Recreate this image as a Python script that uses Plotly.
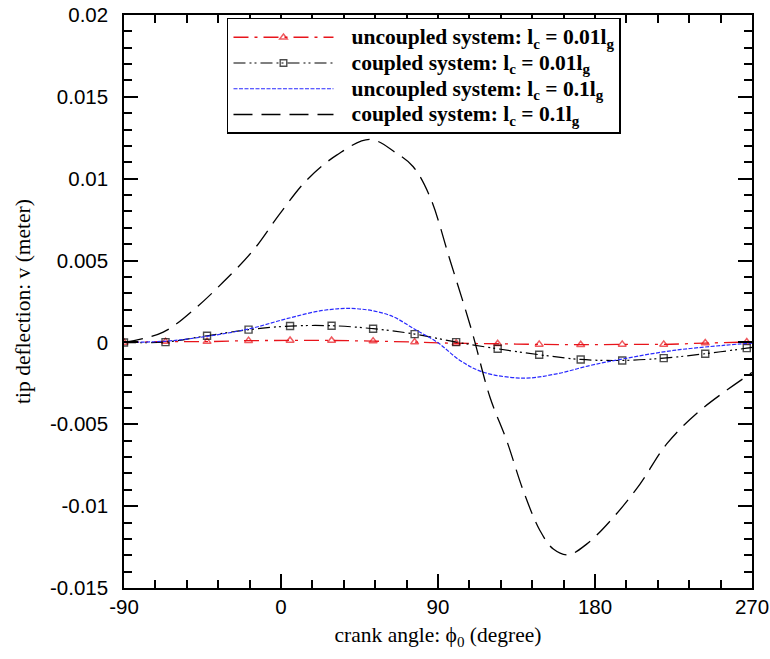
import plotly.graph_objects as go

# ---- data ----
# markers series (uncoupled / coupled, l_c = 0.01 l_g); last point (270) has no marker
mk_angle = [-90, -66.2, -42.4, -18.6, 5.2, 29.0, 52.8, 76.6, 100.4, 124.2, 148.0,
            171.8, 195.6, 219.4, 243.2, 267.0, 270]
unc_001 = [0, 0.00005, 0.00005, 0.00011, 0.00012, 0.00012, 0.00008, 0.00002, -0.00005,
           -0.00008, -0.00012, -0.00014, -0.00012, -0.00012, -0.00004, 0.00002, 0.00002]
cpl_001 = [0, 0.00002, 0.00041, 0.00078, 0.00100, 0.00102, 0.00084, 0.00051, 0.00002,
           -0.00039, -0.00075, -0.00104, -0.00110, -0.00096, -0.00069, -0.00035, -0.00030]

unc_01_angle = [-90, -65.5, -42.6, -17.8, 3.3, 24.3, 43.4, 62.5, 77.8, 90, 102.6, 116,
                139, 158, 177.1, 196.2, 225, 253.6, 270]
unc_01 = [0, 0.00008, 0.00037, 0.00084, 0.00145, 0.00196, 0.00206, 0.00165, 0.00073,
          -0.00002, -0.0011, -0.00182, -0.00218, -0.00192, -0.00141, -0.0010, -0.00049,
          -0.00018, -0.00004]

cpl_01_angle = [-90, -67.5, -48.3, -33.1, -15.9, -0.6, 14.7, 31.9, 51, 66.3, 75.8, 85.4,
                96.9, 109.3, 119.8, 129.4, 138.9, 148.5, 156.1, 164.7, 175.2, 190.5,
                205.8, 221.1, 240.2, 268.9, 270]
cpl_01 = [0, 0.00063, 0.00216, 0.00369, 0.00563, 0.00787, 0.00991, 0.01144, 0.0124,
          0.01155, 0.01073, 0.00889, 0.00502, 0.00073, -0.00335, -0.0060, -0.00906,
          -0.0115, -0.01262, -0.01297, -0.01232, -0.01069, -0.00865, -0.0062, -0.00416,
          -0.00192, -0.00184]

x_ticks = [-90, 0, 90, 180, 270]
y_ticks = [0.02, 0.015, 0.01, 0.005, 0, -0.005, -0.01, -0.015]
y_tick_text = ["0.02", "0.015", "0.01", "0.005", "0", "-0.005", "-0.01", "-0.015"]

legend_labels = [
    "uncoupled system: l<sub>c</sub> = 0.01l<sub>g</sub>",
    "coupled system: l<sub>c</sub> = 0.01l<sub>g</sub>",
    "uncoupled system: l<sub>c</sub> = 0.1l<sub>g</sub>",
    "coupled system: l<sub>c</sub> = 0.1l<sub>g</sub>",
]
names = ["\u00a0\u00a0\u00a0<span style='font-size:21.5px'><b>" + t + "</b></span>" for t in legend_labels]

mk_sizes = [7] * (len(mk_angle) - 1) + [0]

fig = go.Figure()
fig.add_trace(go.Scatter(
    x=mk_angle, y=unc_001, name=names[0], mode="lines+markers",
    line=dict(color="#e8141b", width=1.3, dash="15px,6px,3px,6px", shape="spline"),
    marker=dict(symbol="triangle-up-open", size=mk_sizes, color="#e8141b",
                line=dict(width=1.5, color="#e8141b")),
))
fig.add_trace(go.Scatter(
    x=mk_angle, y=cpl_001, name=names[1], mode="lines+markers",
    line=dict(color="black", width=1.2, dash="12px,4px,2px,3px,2px,4px", shape="spline"),
    marker=dict(symbol="square-open", size=mk_sizes, color="black",
                line=dict(width=1.4, color="black")),
))
fig.add_trace(go.Scatter(
    x=unc_01_angle, y=unc_01, name=names[2], mode="lines",
    line=dict(color="#2a2aff", width=1.2, dash="4px,1.5px", shape="spline"),
))
fig.add_trace(go.Scatter(
    x=cpl_01_angle, y=cpl_01, name=names[3], mode="lines",
    line=dict(color="black", width=1.3, dash="19px,9px", shape="spline"),
))

tick_font = dict(family="Liberation Sans, Arial, sans-serif", size=20.5, color="black")
title_font = dict(family="Liberation Serif, Times New Roman, serif", size=21.5, color="black")

fig.update_layout(
    width=770, height=659,
    margin=dict(l=124, r=18, t=15, b=71),
    paper_bgcolor="white", plot_bgcolor="white",
    showlegend=True, hovermode=False,
    legend=dict(
        x=0.164, y=0.995, xanchor="left", yanchor="top",
        bgcolor="white", bordercolor="black", borderwidth=1.5,
        font=dict(family="Liberation Serif, Times New Roman, serif", size=17.5, color="black"),
        itemwidth=100, tracegroupgap=0,
    ),
    xaxis=dict(
        range=[-90, 270], tickvals=x_ticks, ticktext=[str(v) for v in x_ticks],
        ticks="inside", ticklen=14, tickwidth=2, tickcolor="black",
        minor=dict(dtick=18, tick0=-90, ticks="inside", ticklen=8, tickwidth=1.5, tickcolor="black"),
        showline=True, linecolor="black", linewidth=1.5, mirror="ticks",
        showgrid=False, zeroline=False, tickfont=tick_font, automargin=False,
        ticklabeloverflow="allow",
        title=dict(text="crank angle: \u03d5<sub>0</sub> (degree)", font=title_font, standoff=10),
    ),
    yaxis=dict(
        range=[-0.015, 0.02], tickvals=y_ticks, ticktext=y_tick_text,
        ticks="inside", ticklen=14, tickwidth=2, tickcolor="black",
        minor=dict(dtick=0.001, tick0=0, ticks="inside", ticklen=8, tickwidth=1.5, tickcolor="black"),
        showline=True, linecolor="black", linewidth=1.5, mirror="ticks",
        showgrid=False, zeroline=False, tickfont=tick_font, automargin=False,
        ticklabelstandoff=10, ticklabeloverflow="allow",
        title=dict(text="tip deflection: v (meter)", font=title_font, standoff=13),
    ),
    # fine tick marks along the frame
    xaxis2=dict(
        overlaying="x", anchor="y", range=[-90, 270], dtick=1.8, tick0=-90,
        ticks="inside", ticklen=3, tickwidth=1, tickcolor="black", mirror="ticks",
        showticklabels=False, showgrid=False, zeroline=False, showline=False,
    ),
    yaxis2=dict(
        overlaying="y", anchor="x", range=[-0.015, 0.02], dtick=0.0002, tick0=0,
        ticks="inside", ticklen=3, tickwidth=1, tickcolor="black", mirror="ticks",
        showticklabels=False, showgrid=False, zeroline=False, showline=False,
    ),
)

# remove the default page margin so the 770x659 figure fills the window exactly
fig.write_html("out.html", config={"displayModeBar": False},
               post_script="document.body.style.margin='0';")
